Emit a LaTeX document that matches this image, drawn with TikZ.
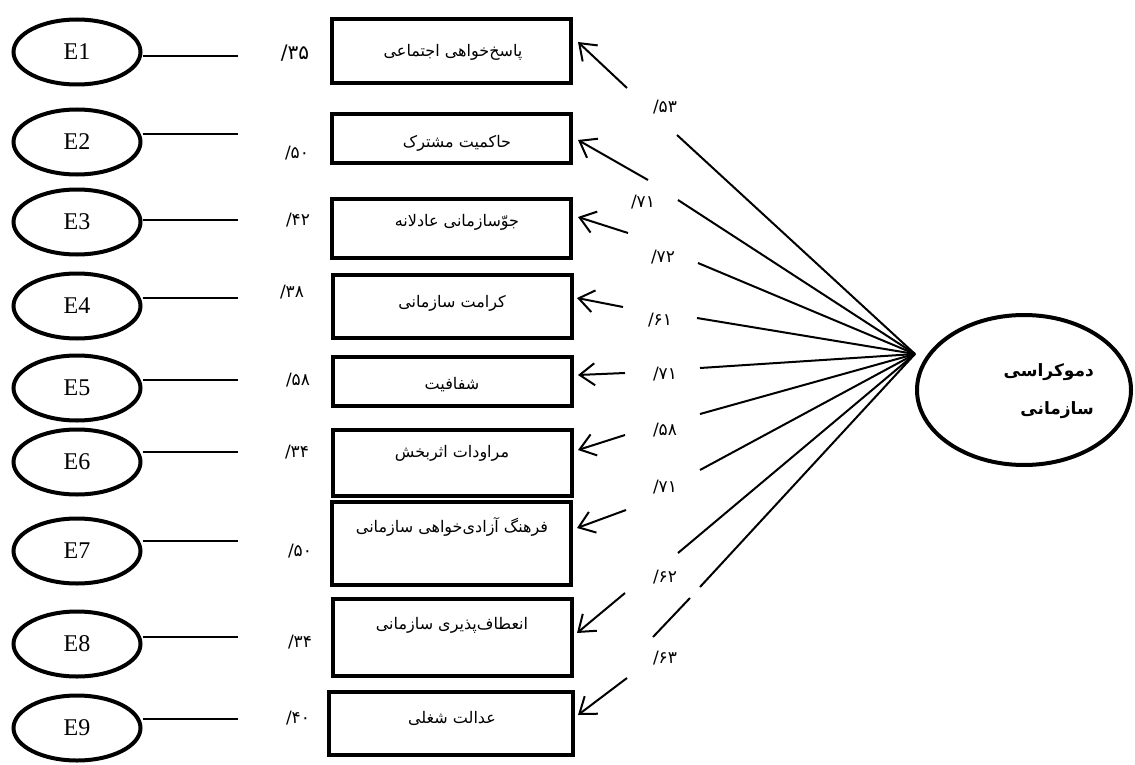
\documentclass[tikz,border=0pt]{standalone}
\usepackage{fontspec}
\setmainfont{Liberation Serif}
\newfontfamily\arabicfont[Script=Arabic]{DejaVu Sans}
\TeXXeTstate=1
\usetikzlibrary{shapes.geometric,arrows.meta}
\newcommand{\ld}[1]{/\kern0pt #1}
\begin{document}
\begin{tikzpicture}[x=1pt,y=-1pt,
 errell/.style={ellipse,draw,line width=4pt,minimum width=127pt,minimum height=65pt,inner sep=0pt,font=\fontsize{24}{28}\selectfont},
 ebox/.style={rectangle,draw,line width=4pt,minimum width=239pt,inner sep=0pt},
 ptext/.style={font=\arabicfont\fontsize{16}{19}\selectfont,inner sep=0pt},
 lbl/.style={font=\arabicfont\fontsize{17}{20}\selectfont,inner sep=0pt},
 conn/.style={line width=2pt},
 arr/.style={-{Straight Barb[length=15pt,width=22pt,line width=2pt]}}
]
\useasboundingbox (0,0) rectangle (1135,765);

% error ellipses and their lines
\foreach \i/\y/\ly in {1/52/56, 2/142/134, 3/222/220, 4/306/298, 5/388/380, 6/462/452, 7/551/541, 8/644/637, 9/728/719} {
  \node[errell] (E\i) at (77,\y) {E\i};
  \coordinate (L\i) at (238,\ly);
  \draw[conn] (L\i -| E\i.east) -- (L\i);
}

% left loadings
\node[lbl,font=\arabicfont\fontsize{20}{22}\selectfont] (p1) at (295,53) {\ld{۳۵}};
\node[lbl] (p2) at (297,153) {\ld{۵۰}};
\node[lbl] (p3) at (298,220) {\ld{۴۲}};
\node[lbl] (p4) at (292,292) {\ld{۳۸}};
\node[lbl] (p5) at (298,380) {\ld{۵۸}};
\node[lbl] (p6) at (297,452) {\ld{۳۴}};
\node[lbl] (p7) at (300,551) {\ld{۵۰}};
\node[lbl] (p8) at (300,642) {\ld{۳۴}};
\node[lbl] (p9) at (298,718) {\ld{۴۰}};

% indicator boxes
\node[ebox,minimum height=64pt] (b1) at (451.5,51) {};
\node[ebox,minimum height=49pt] (b2) at (451.5,138.5) {};
\node[ebox,minimum height=59pt] (b3) at (451.5,228.5) {};
\node[ebox,minimum height=63pt] (b4) at (452.5,306.5) {};
\node[ebox,minimum height=49pt] (b5) at (452.5,381.5) {};
\node[ebox,minimum height=66pt] (b6) at (452.5,463) {};
\node[ebox,minimum height=83pt] (b7) at (451.5,543.5) {};
\node[ebox,minimum height=77pt] (b8) at (452.5,637.5) {};
\node[ebox,minimum height=63pt,minimum width=244pt] (b9) at (451,723.5) {};

\node[ptext] (t1) at (453,52) {\beginR پاسخ‌خواهی اجتماعی\endR};
\node[ptext] (t2) at (457,143) {\beginR حاکمیت مشترک\endR};
\node[ptext] (t3) at (457,222) {\beginR جوّسازمانی عادلانه\endR};
\node[ptext] (t4) at (452,303) {\beginR کرامت سازمانی\endR};
\node[ptext] (t5) at (452,385) {\beginR شفافیت\endR};
\node[ptext] (t6) at (452,453) {\beginR مراودات اثربخش\endR};
\node[ptext] (t7) at (452,527) {\beginR فرهنگ آزادی‌خواهی سازمانی\endR};
\node[ptext] (t8) at (452,625) {\beginR انعطاف‌پذیری سازمانی\endR};
\node[ptext] (t9) at (452,718) {\beginR عدالت شغلی\endR};

% latent construct
\node[ellipse,draw,line width=4pt,minimum width=214pt,minimum height=150pt,inner sep=0pt] (D) at (1024,390) {};
\node[font=\arabicfont\bfseries\fontsize{17}{38}\selectfont,align=right,anchor=east,inner sep=0pt] (Dt) at (1094,391) {\beginR دموکراسی\endR\\\beginR سازمانی\endR};
\coordinate (fan) at (915,354);

% connector pieces
\coordinate (a1) at (578,42);  \coordinate (n1) at (627,88);  \coordinate (f1) at (677,135);
\coordinate (a2) at (578,140); \coordinate (n2) at (648,180); \coordinate (f2) at (678,200);
\coordinate (a3) at (578,217); \coordinate (n3) at (628,233); \coordinate (f3) at (698,263);
\coordinate (a4) at (577,298); \coordinate (n4) at (623,307); \coordinate (f4) at (697,318);
\coordinate (a5) at (578,375); \coordinate (n5) at (625,373); \coordinate (f5) at (700,368);
\coordinate (a6) at (578,450); \coordinate (n6) at (625,435); \coordinate (f6) at (700,414);
\coordinate (a7) at (577,528); \coordinate (n7) at (626,510); \coordinate (f7) at (700,470);
\coordinate (a8) at (577,633); \coordinate (n8) at (625,593); \coordinate (f8) at (678,553);
\coordinate (a9) at (578,715); \coordinate (n9) at (627,678); \coordinate (f9) at (700,587);
\coordinate (m9a) at (690,598); \coordinate (m9b) at (653,637);
\foreach \i in {1,...,9} {
  \draw[conn] (fan) -- (f\i);
  \draw[conn,arr] (n\i) -- (a\i);
}
\draw[conn] (m9a) -- (m9b);

% right loadings
\node[lbl] (q1) at (665,107) {\ld{۵۳}};
\node[lbl] (q2) at (643,202) {\ld{۷۱}};
\node[lbl] (q3) at (663,257) {\ld{۷۲}};
\node[lbl] (q4) at (660,320) {\ld{۶۱}};
\node[lbl] (q5) at (665,374) {\ld{۷۱}};
\node[lbl] (q6) at (665,430) {\ld{۵۸}};
\node[lbl] (q7) at (665,487) {\ld{۷۱}};
\node[lbl] (q8) at (665,577) {\ld{۶۲}};
\node[lbl] (q9) at (665,658) {\ld{۶۳}};
\end{tikzpicture}
\end{document}
